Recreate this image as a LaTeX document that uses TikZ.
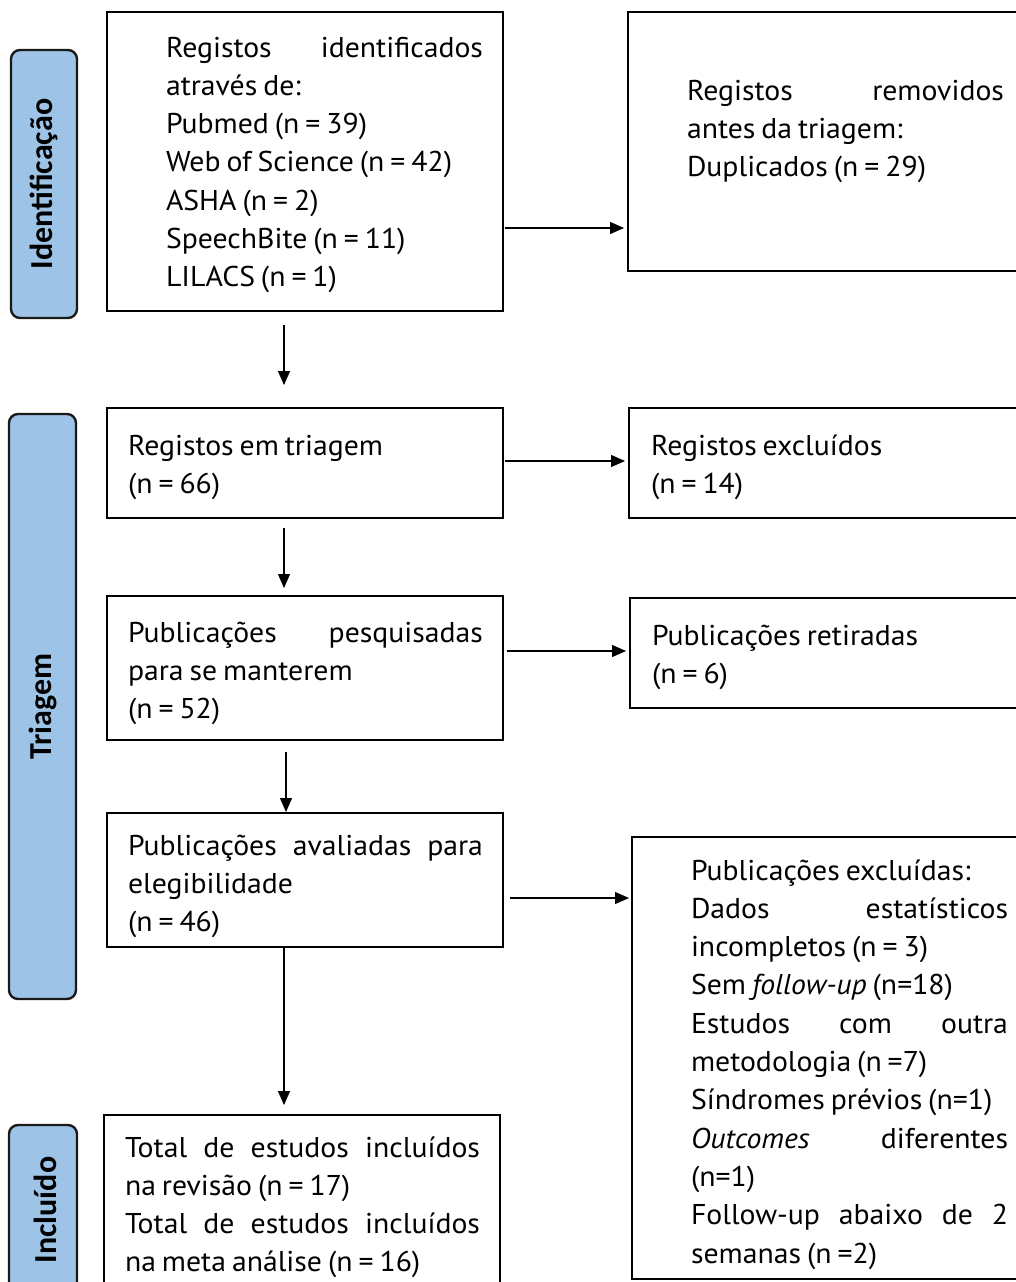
\documentclass[tikz,border=0pt]{standalone}
\usepackage{fontspec}
\setmainfont[FakeStretch=1.04,WordSpace=0.75]{PT Sans}
\newfontfamily\sidefont{Carlito}
\usetikzlibrary{arrows.meta}
\definecolor{sideblue}{HTML}{9DC3E6}
\definecolor{sideedge}{HTML}{1A1A1A}
\newcommand{\jline}[2]{\makebox[#1pt][s]{#2}}
\newcommand{\fst}{\rule{0pt}{28pt}}
\begin{document}
\begin{tikzpicture}[x=1pt,y=-1pt,
  box/.style={draw, line width=1.8pt, inner sep=0pt, outer sep=0pt, anchor=north west},
  side/.style={draw=sideedge, fill=sideblue, line width=2.4pt, rounded corners=9pt, inner sep=0pt, outer sep=0pt, anchor=north west},
  sidelabel/.style={rotate=90, font=\sidefont\bfseries\fontsize{32}{35}\selectfont, inner sep=0pt},
  txt/.style={anchor=north west, inner sep=0pt, outer sep=0pt, align=left, font=\fontsize{28.6}{38.3}\selectfont},
  arr/.style={line width=1.2pt, -{Triangle[length=14pt,width=12pt]}}]
\useasboundingbox (0,0) rectangle (1016,1282);
\clip (0,0) rectangle (1016,1282);

% side labels
\node[side, minimum width=66pt, minimum height=268pt] (sid1) at (11,50) {};
\node[sidelabel] (lid1) at (sid1.center) {Identificação};
\node[side, minimum width=67pt, minimum height=585pt] (sid2) at (9,414) {};
\node[sidelabel] (lid2) at (sid2.center) {Triagem};
\node[side, minimum width=68pt, minimum height=180pt] (sid3) at (9,1125) {};
\node[sidelabel] (lid3) at (45,1210) {Incluído};

% boxes
\node[box, minimum width=396pt, minimum height=299pt] (b1) at (107,12) {};
\node[box, minimum width=410pt, minimum height=259pt] (b2) at (628,12) {};
\node[box, minimum width=396pt, minimum height=110pt] (b3) at (107,408) {};
\node[box, minimum width=410pt, minimum height=110pt] (b4) at (629,408) {};
\node[box, minimum width=396pt, minimum height=144pt] (b5) at (107,596) {};
\node[box, minimum width=410pt, minimum height=110pt] (b6) at (630,598) {};
\node[box, minimum width=396pt, minimum height=134pt] (b7) at (107,813) {};
\node[box, minimum width=410pt, minimum height=442pt] (b8) at (632,837) {};
\node[box, minimum width=396pt, minimum height=190pt] (b9) at (104,1115) {};

% texts (placed at first baseline - 28)
\node[txt] (t1) at (166,29) {\fst\jline{317}{Registos identificados}\\através de:\\Pubmed (n = 39)\\Web of Science (n = 42)\\ASHA (n = 2)\\SpeechBite (n = 11)\\LILACS (n = 1)};
\node[txt] (t2) at (687,72) {\fst\jline{317}{Registos removidos}\\antes da triagem:\\Duplicados (n = 29)};
\node[txt] (t3) at (128,427) {\fst Registos em triagem\\(n = 66)};
\node[txt] (t4) at (651,427) {\fst Registos excluídos\\(n = 14)};
\node[txt] (t5) at (128,614) {\fst\jline{355}{Publicações pesquisadas}\\para se manterem\\(n = 52)};
\node[txt] (t6) at (652,617) {\fst Publicações retiradas\\(n = 6)};
\node[txt] (t7) at (128,827) {\fst\jline{355}{Publicações avaliadas para}\\elegibilidade\\(n = 46)};
\node[txt] (t8) at (691,852) {\fst Publicações excluídas:\\\jline{317}{Dados estatísticos}\\incompletos (n = 3)\\Sem \textit{follow-up} (n=18)\\\jline{317}{Estudos com outra}\\metodologia (n =7)\\Síndromes prévios (n=1)\\\jline{317}{\textit{Outcomes} diferentes}\\(n=1)\\\jline{317}{Follow-up abaixo de 2}\\semanas (n =2)};
\node[txt] (t9) at (125,1129) {\fst\jline{355}{Total de estudos incluídos}\\na revisão (n = 17)\\\jline{355}{Total de estudos incluídos}\\na meta análise (n = 16)};

% connectors
\coordinate (a1s) at (505,228); \coordinate (a1e) at (624,228);
\draw[arr] (a1s) -- (a1e);
\coordinate (d1s) at (284,325); \coordinate (d1e) at (284,385);
\draw[arr] (d1s) -- (d1e);
\coordinate (a2s) at (505,461); \coordinate (a2e) at (625,461);
\draw[arr] (a2s) -- (a2e);
\coordinate (d2s) at (284,528); \coordinate (d2e) at (284,588);
\draw[arr] (d2s) -- (d2e);
\coordinate (a3s) at (507,651); \coordinate (a3e) at (626,651);
\draw[arr] (a3s) -- (a3e);
\coordinate (d3s) at (286,752); \coordinate (d3e) at (286,812);
\draw[arr] (d3s) -- (d3e);
\coordinate (a4s) at (510,898); \coordinate (a4e) at (629,898);
\draw[arr] (a4s) -- (a4e);
\coordinate (d4e) at (284,1105);
\draw[arr] (b7.south -| d4e) -- (d4e);
\end{tikzpicture}
\end{document}
